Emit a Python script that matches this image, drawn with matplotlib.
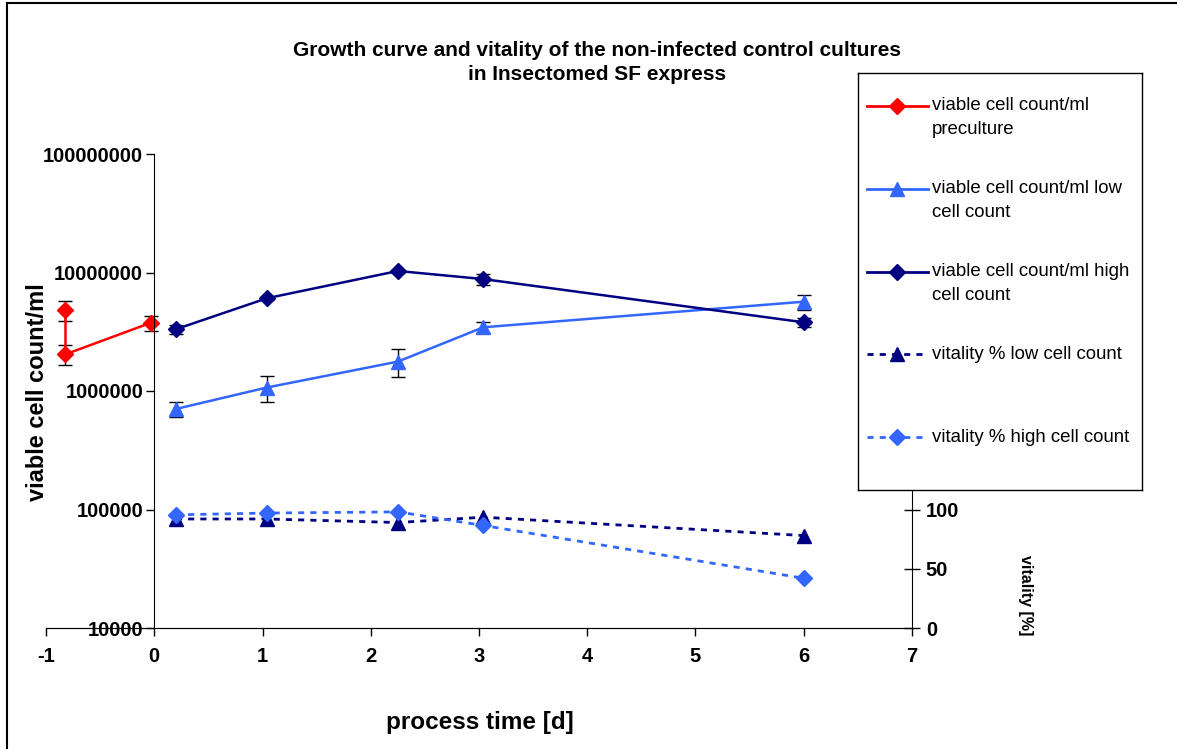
import matplotlib
matplotlib.use("Agg")
import matplotlib.pyplot as plt
from matplotlib.lines import Line2D
import numpy as np

plt.rcParams['font.family'] = ['Liberation Sans', 'DejaVu Sans']
plt.rcParams['axes.unicode_minus'] = False

# ==========================================
# data
# ==========================================
pre_x = [-0.82, -0.82, -0.03]
pre_y = [4.83e6, 2.04e6, 3.77e6]
pre_err = [0.95e6, 0.39e6, 0.55e6]

days = [0.2, 1.04, 2.25, 3.04, 6.0]
low_y = [7.05e5, 1.07e6, 1.77e6, 3.45e6, 5.67e6]
low_err = [1.05e5, 2.6e5, 4.7e5, 0.35e6, 0.85e6]
high_y = [3.32e6, 6.06e6, 1.03e7, 8.8e6, 3.8e6]
high_err = [0.3e6, 0.2e6, 0.3e6, 0.95e6, 0.35e6]

vit_low = [92, 92, 89, 93.5, 78]
vit_high = [95.5, 97, 98, 86.5, 42]

RED = '#FF0000'
LIGHT = '#3366FF'
NAVY = '#000080'
DOT = (0, (2.2, 2.2))

W, H = 1177, 749
fig = plt.figure(figsize=(W / 100, H / 100), dpi=100)


def fx(px):
    return px / W


def fy(py):
    return 1 - py / H


ax = fig.add_axes([fx(46), fy(628), fx(912) - fx(46), fy(154) - fy(628)])
ax.set_yscale('log')
ax.set_xlim(-1, 7)
ax.set_ylim(1e4, 1e8)
ax.spines['top'].set_visible(False)
ax.spines['right'].set_visible(False)
ax.spines['left'].set_position(('data', 0))
ax.set_yticks([1e4, 1e5, 1e6, 1e7, 1e8])
ax.set_yticklabels(['10000', '100000', '1000000', '10000000', '100000000'])
ax.yaxis.set_minor_locator(matplotlib.ticker.NullLocator())
ax.set_xticks(range(-1, 8))
ax.tick_params(axis='both', direction='out', length=6, width=1, labelsize=14.5)
for lab in ax.get_xticklabels() + ax.get_yticklabels():
    lab.set_fontweight('bold')
ax.tick_params(axis='x', pad=8)
ax.tick_params(axis='y', pad=2)
ax.patch.set_alpha(0)

ebkw = dict(ecolor='black', elinewidth=1, capsize=5, capthick=1)
ax.errorbar(pre_x, pre_y, yerr=pre_err, color=RED, marker='D', ms=8.5, lw=1.8, **ebkw)
ax.errorbar(days, low_y, yerr=low_err, color=LIGHT, marker='^', ms=9.5, lw=1.8, **ebkw)
ax.errorbar(days, high_y, yerr=high_err, color=NAVY, marker='D', ms=8.5, lw=1.8, **ebkw)

# right axis runs 0-400; everything above 100 sits behind the legend box
ax2 = ax.twinx()
ax2.set_ylim(0, 400)
ax2.set_yticks([0, 50, 100])
ax2.spines['top'].set_visible(False)
ax2.spines['left'].set_visible(False)
ax2.tick_params(axis='y', direction='inout', length=12, width=1, labelsize=14.5, pad=4)
for lab in ax2.get_yticklabels():
    lab.set_fontweight('bold')
ax2.plot(days, vit_low, color=NAVY, marker='^', ms=9.5, lw=2, linestyle=DOT)
ax2.plot(days, vit_high, color=LIGHT, marker='D', ms=8.5, lw=2, linestyle=DOT)

fig.text(fx(38), fy(392), 'viable cell count/ml', rotation=90, ha='center', va='center',
         fontsize=17, fontweight='bold')
fig.text(fx(480), fy(722), 'process time [d]', ha='center', va='center',
         fontsize=17.5, fontweight='bold')
fig.text(fx(1025), fy(595), 'vitality [%]', rotation=270, ha='center', va='center',
         fontsize=11.5, fontweight='bold')
fig.text(fx(597), fy(50), 'Growth curve and vitality of the non-infected control cultures',
         ha='center', va='center', fontsize=15, fontweight='bold')
fig.text(fx(597), fy(75), 'in Insectomed SF express',
         ha='center', va='center', fontsize=15, fontweight='bold')

# legend box drawn by hand (Excel style, handle aligned to first text line)
lg = fig.add_axes([fx(858), fy(490), fx(1142) - fx(858), fy(73) - fy(490)])
lg.set_xlim(858, 1142)
lg.set_ylim(490, 73)
lg.set_xticks([])
lg.set_yticks([])
lg.set_facecolor('white')
for s in lg.spines.values():
    s.set_linewidth(1)
entries = [
    (RED, 'D', '-', ['viable cell count/ml', 'preculture']),
    (LIGHT, '^', '-', ['viable cell count/ml low', 'cell count']),
    (NAVY, 'D', '-', ['viable cell count/ml high', 'cell count']),
    (NAVY, '^', DOT, ['vitality % low cell count']),
    (LIGHT, 'D', DOT, ['vitality % high cell count']),
]
for i, (c, m, ls, lines) in enumerate(entries):
    yy = 106 + i * 82.8
    lg.add_line(Line2D([867, 928], [yy, yy], color=c, lw=2, linestyle=ls))
    lg.add_line(Line2D([897], [yy], color=c, marker=m, ms=8.5 if m == 'D' else 9.5, linestyle='none'))
    for j, txt in enumerate(lines):
        lg.text(932, yy + j * 23.5, txt, ha='left', va='center', fontsize=13.4)

# outer chart frame (only left and top edges show in the crop)
fig.add_artist(Line2D([fx(7), fx(7)], [0, fy(3)], color='black', lw=1.5))
fig.add_artist(Line2D([fx(7), 1], [fy(3), fy(3)], color='black', lw=1.5))

fig.savefig('out.png', dpi=100)
